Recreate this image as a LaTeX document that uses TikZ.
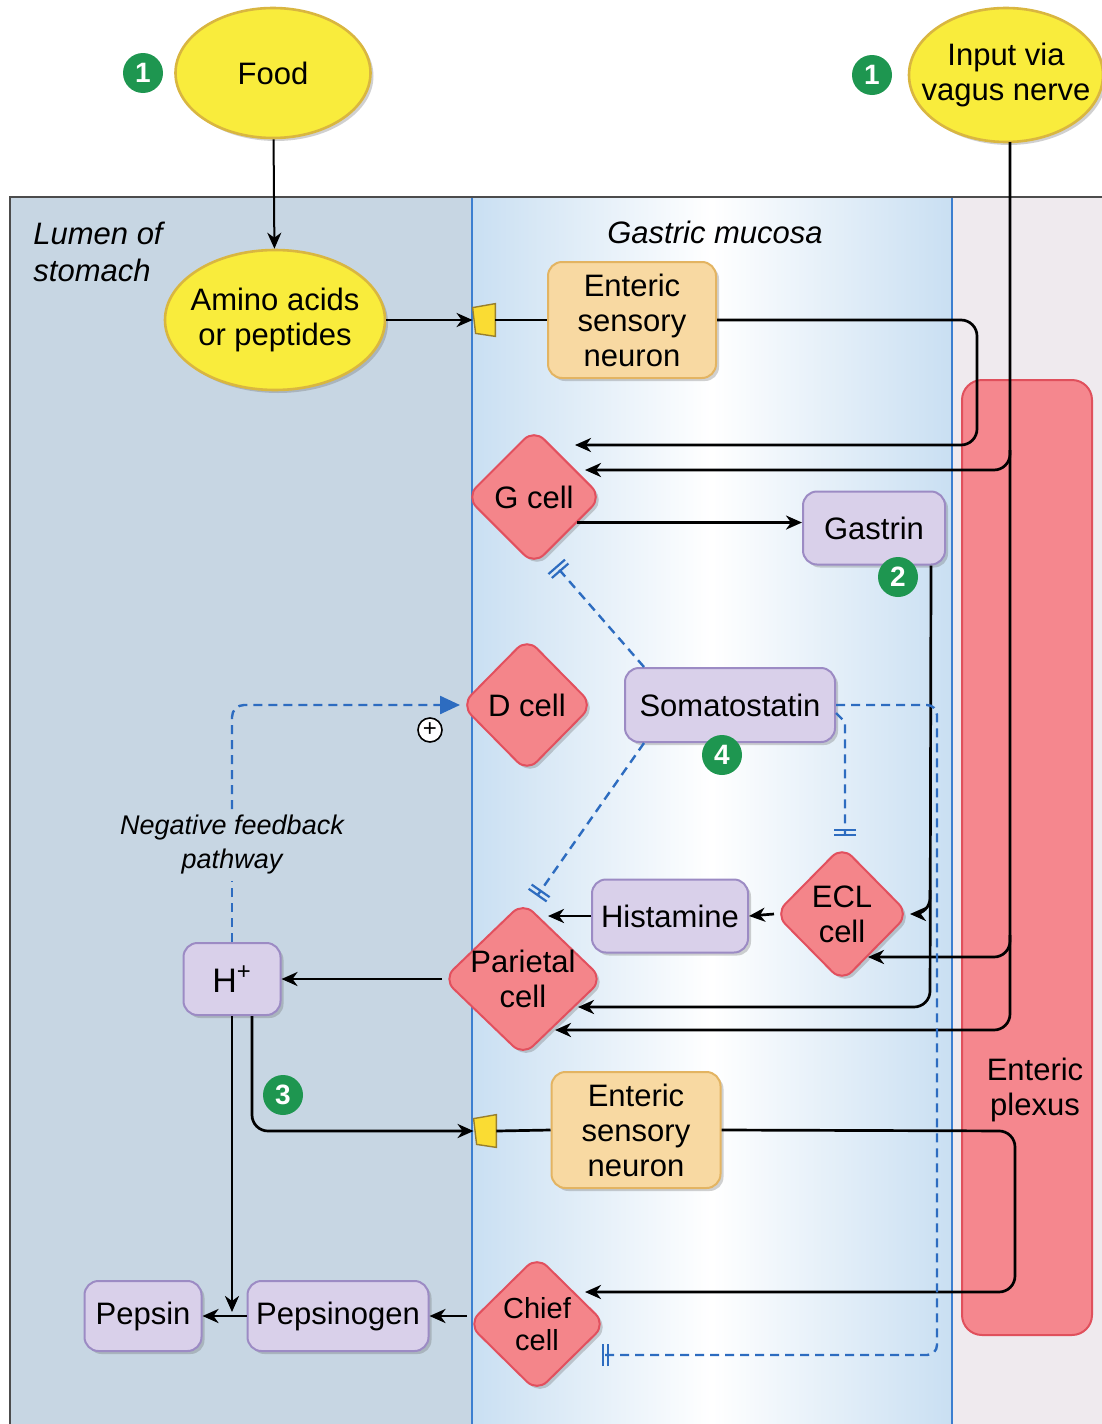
\documentclass[tikz,border=0pt]{standalone}
\usepackage{fontspec}
\setmainfont{Liberation Sans}
\usetikzlibrary{shapes.geometric,arrows.meta,shadows,calc}
\definecolor{lumen}{HTML}{C7D6E3}
\definecolor{mucosaedge}{HTML}{C9DFF2}
\definecolor{rightbg}{HTML}{EFEAEE}
\definecolor{yel}{HTML}{F9EC3C}
\definecolor{yelb}{HTML}{D9B640}
\definecolor{cellf}{HTML}{F4858A}
\definecolor{cellb}{HTML}{E2505E}
\definecolor{lav}{HTML}{D9D0EA}
\definecolor{lavb}{HTML}{9C8BC4}
\definecolor{orf}{HTML}{F8D9A2}
\definecolor{orb}{HTML}{E3B462}
\definecolor{badge}{HTML}{1E9650}
\definecolor{dblue}{HTML}{2D6CC0}
\definecolor{plexf}{HTML}{F5878E}
\definecolor{plexb}{HTML}{E0505C}
\definecolor{bordblue}{HTML}{3C7FD0}
\tikzset{
  txt/.style={font=\fontsize{15.5}{17.5}\selectfont, align=center, inner sep=0pt},
  itxt/.style={font=\fontsize{15.5}{18.5}\selectfont\itshape, inner sep=0pt},
  shd/.style={drop shadow={opacity=0.3, shadow xshift=1.5pt, shadow yshift=-1.5pt, fill=black!60}},
  oval/.style={ellipse, draw=yelb, line width=1.3pt, fill=yel, inner sep=0pt, shd},
  cellnode/.style={diamond, draw=cellb, line width=1pt, fill=cellf, rounded corners=7pt, inner sep=0pt, shd},
  chem/.style={txt, rectangle, rounded corners=7pt, draw=lavb, line width=1pt, fill=lav, shd},
  neuron/.style={txt, rectangle, rounded corners=7pt, draw=orb, line width=1pt, fill=orf, shd},
  receptor/.style={rectangle, minimum width=11pt, minimum height=16pt, inner sep=0pt},
  recdraw/.style={draw=yelb!70!black, fill=yel!85!orange, line width=0.7pt},
  badgenode/.style={circle, fill=badge, text=white, font=\bfseries\fontsize{14}{14}\selectfont, minimum size=20pt, inner sep=0pt},
  arr/.style={-{Stealth[length=8pt,width=7pt,inset=2.5pt]}, line width=1.35pt},
  ln/.style={line width=1.35pt},
  inhib/.style={dblue, line width=1.2pt, dash pattern=on 4.5pt off 3pt, -{Bar[width=11pt,line width=1.1pt,sep=1.5pt]Bar[width=11pt,line width=1.1pt]}},
  fb/.style={dblue, line width=1.2pt, dash pattern=on 4.5pt off 3pt},
}
\begin{document}
\begin{tikzpicture}[x=0.5pt,y=-0.5pt]
\useasboundingbox (0,0) rectangle (1102,1424);
\fill[white] (0,0) rectangle (1102,1424);
% panels
\fill[lumen] (10,197) rectangle (472,1424);
\shade[left color=mucosaedge, right color=mucosaedge, middle color=white] (472,197) rectangle (952,1424);
\fill[rightbg] (952,197) rectangle (1102,1424);
\draw[bordblue, line width=0.8pt] (472,197) -- (472,1424);
\draw[bordblue, line width=0.8pt] (952,197) -- (952,1424);
\draw[gray!60!black, line width=0.8pt] (10,1424) -- (10,197) -- (1102,197);

% enteric plexus
\node[rectangle, rounded corners=10pt, draw=plexb, fill=plexf, line width=1pt, minimum width=65pt, minimum height=477.5pt, inner sep=0pt] (plexus) at (1027,857.5) {};
\node[txt] (plexlbl) at (1035,1090) {Enteric\\plexus};

% labels
\node[itxt, anchor=west, align=left] (lumenlbl) at (33,252) {Lumen of\\stomach};
\node[itxt] (mucosalbl) at (715,232) {Gastric mucosa};

% nodes
\node[oval, minimum width=97.5pt, minimum height=65pt, label={[txt]center:Food}] (food) at (273,73) {};
\node[oval, minimum width=97pt, minimum height=67pt, label={[txt]center:Input via\\vagus nerve}] (vagus) at (1006,75) {};
\node[oval, minimum width=110pt, minimum height=70pt, label={[txt]center:Amino acids\\or peptides}] (amino) at (275,320) {};
\node[receptor] (rec1) at (484,320) {};
\draw[recdraw] ($(rec1.north west)+(0,4)$) -- (rec1.north east) -- (rec1.south east) -- ($(rec1.south west)+(3,-3)$) -- cycle;
\node[neuron, minimum width=84pt, minimum height=58pt] (n1) at (632,320) {Enteric\\sensory\\neuron};
\node[cellnode, minimum width=68pt, minimum height=68pt, label={[txt]center:G cell}] (gcell) at (534,497) {};
\node[chem, minimum width=71pt, minimum height=36.5pt] (gastrin) at (874,528) {Gastrin};
\node[cellnode, minimum width=66pt, minimum height=67pt, label={[txt]center:D cell}] (dcell) at (527,705) {};
\node[chem, minimum width=105pt, minimum height=37pt] (somat) at (730,705) {Somatostatin};
\node[cellnode, minimum width=67pt, minimum height=68pt, label={[txt]center:ECL\\cell}] (ecl) at (842,914) {};
\node[chem, minimum width=78pt, minimum height=36.5pt] (hist) at (670,916) {Histamine};
\node[cellnode, minimum width=80pt, minimum height=77pt, label={[txt]center:Parietal\\cell}] (par) at (523,979) {};
\node[chem, minimum width=48.5pt, minimum height=36pt, font=\fontsize{17}{19}\selectfont] (hplus) at (232,979) {H\textsuperscript{+}};
\node[font=\fontsize{13.5}{17}\selectfont\itshape, align=center, inner sep=3pt] (fbtext) at (232,845) {Negative feedback\\pathway};
\node[circle, draw, fill=white, line width=0.8pt, minimum size=12pt, inner sep=0pt, font=\fontsize{12}{12}\selectfont] (plus) at (430,730) {+};
\node[receptor] (rec2) at (485,1131) {};
\draw[recdraw] ($(rec2.north west)+(0,4)$) -- (rec2.north east) -- (rec2.south east) -- ($(rec2.south west)+(3,-3)$) -- cycle;
\node[neuron, minimum width=84.5pt, minimum height=58pt] (n2) at (636,1130) {Enteric\\sensory\\neuron};
\node[cellnode, minimum width=69pt, minimum height=68pt, label={[txt, font=\fontsize{14.5}{16}\selectfont]center:Chief\\cell}] (chief) at (537,1324) {};
\node[chem, minimum width=90.5pt, minimum height=35pt] (pepsinogen) at (338,1316) {Pepsinogen};
\node[chem, minimum width=58.5pt, minimum height=35pt] (pepsin) at (143,1316) {Pepsin};

% badges
\node[badgenode] (b1a) at (143,73) {1};
\node[badgenode] (b1b) at (872,75) {1};
\node[badgenode] (b2) at (898,577) {2};
\node[badgenode] (b3) at (283,1095) {3};
\node[badgenode] (b4) at (722,755) {4};

% free ends
\coordinate (gin1) at (575,445);
\coordinate (gin2) at (585,470);
\coordinate (gout) at ($(gcell.east)!0.37!(gcell.south)$);
\coordinate (eclin2) at (868,957);
\coordinate (pin1) at (578,1007);
\coordinate (pin2) at (555,1030);
\coordinate (pin0) at (548,916);
\coordinate (cin) at (585,1292);
\coordinate (gbot) at (556,566);
\coordinate (ptop) at (537,896);
\coordinate (ecltop) at (845,836);
\coordinate (chiefin) at (602,1355);
\coordinate (hdown) at (232,1312);
\coordinate (vagtop) at (1010,142);

% connectors
\draw[arr, line width=1pt] (food) -- (amino);
\draw[arr] (amino.east) -- (rec1.west);
\draw[ln] (rec1.east) -- (n1.west);
\draw[arr, rounded corners=8pt] (n1.east) -- (977,320) -- (977,445) -- (gin1);
\draw[arr, rounded corners=8pt] (vagtop) -- (1010,1030) -- (pin2);
\draw[arr, rounded corners=8pt] (1010,450) -- (1010,470) -- (gin2);
\draw[arr, rounded corners=8pt] (1010,935) -- (1010,957) -- (eclin2);
\draw[arr] (gout) -- (gout -| gastrin.west);
\draw[arr, rounded corners=8pt] ($(gastrin.south east)+(-15,0)$) -- (930,1007) -- (pin1);
\draw[arr, rounded corners=8pt] (930,890) -- (930,914) -- (ecl.east);
\draw[arr] (ecl.west) -- (hist.east);
\draw[arr] (hist.west) -- (pin0);
\draw[arr] (par.west) -- (hplus.east);
\draw[arr] (hplus.south) -- (hdown);
\draw[arr, rounded corners=8pt] ($(hplus.south)+(20,0)$) -- (252,1131) -- (rec2.west);
\draw[ln] (rec2.east) -- (n2.west);
\draw[arr, rounded corners=8pt] (n2.east) -- (1015,1131) -- (1015,1292) -- (cin);
\draw[arr] (pepsinogen.east -| chief.west) -- (pepsinogen.east);
\draw[arr] (pepsinogen.west) -- (pepsin.east);

% inhibition (somatostatin)
\draw[inhib] ($(somat.north west)+(20,0)$) -- (gbot);
\draw[inhib] ($(somat.south west)+(20,0)$) -- (ptop);
\draw[inhib] ($(somat.east)+(0,8)$) -- (845,722) -- (ecltop);
\draw[inhib, rounded corners=5pt] (somat.east) -- (937,705) -- (937,1355) -- (chiefin);

% negative feedback
\draw[fb] (hplus.north) -- (fbtext.south);
\draw[fb, rounded corners=6pt, -{Triangle[length=10pt,width=9pt]}] (fbtext.north) -- (232,705) -- (dcell.west);
\end{tikzpicture}
\end{document}
